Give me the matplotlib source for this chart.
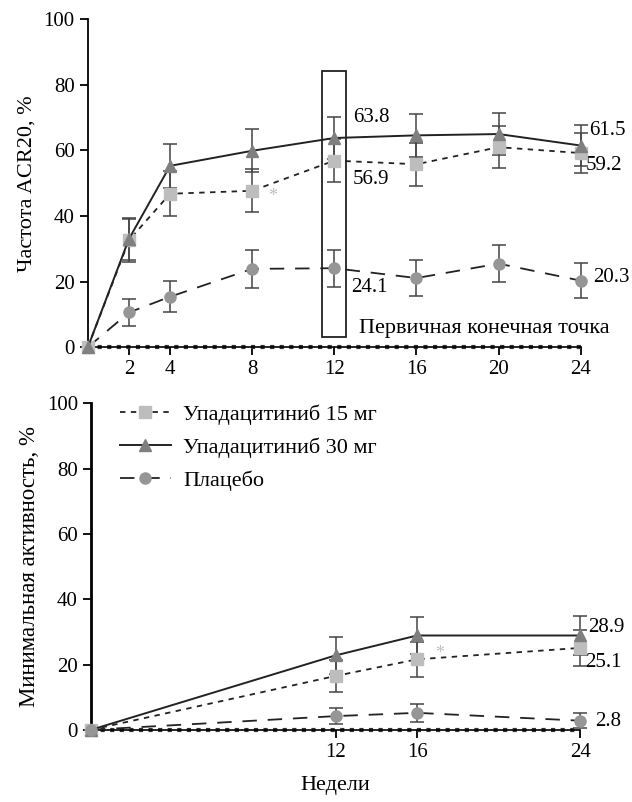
import matplotlib
matplotlib.use("Agg")
import matplotlib.pyplot as plt
from matplotlib.patches import Rectangle

plt.rcParams['font.family'] = ['Liberation Serif', 'DejaVu Serif']
plt.rcParams['font.size'] = 14

# верхний график: ACR20
weeks_top = [0, 2, 4, 8, 12, 16, 20, 24]
acr_15 = [0, 32.6, 46.8, 47.7, 56.9, 55.8, 61.0, 59.2]
acr_15_err = [0, 6.5, 6.8, 6.5, 6.5, 6.5, 6.5, 6.2]
acr_30 = [0, 33.0, 55.3, 59.9, 63.8, 64.6, 65.0, 61.5]
acr_30_err = [0, 6.5, 6.6, 6.6, 6.5, 6.5, 6.5, 6.3]
acr_pbo = [0, 10.6, 15.4, 23.9, 24.1, 21.1, 25.5, 20.3]
acr_pbo_err = [0, 4.1, 4.8, 5.7, 5.6, 5.4, 5.7, 5.4]

# нижний график: минимальная активность
weeks_bot = [0, 12, 16, 24]
mda_15 = [0, 16.5, 21.6, 25.1]
mda_15_err = [0, 4.8, 5.3, 5.5]
mda_30 = [0, 22.8, 28.9, 28.9]
mda_30_err = [0, 5.7, 5.8, 5.9]
mda_pbo = [0, 4.2, 5.2, 2.8]
mda_pbo_err = [0, 2.4, 2.7, 2.3]

labels = ["Упадацитиниб 15 мг", "Упадацитиниб 30 мг", "Плацебо"]

st_15 = dict(color='#222222', ls=(0, (3, 3)), lw=1.3, marker='s', ms=8,
             mfc='#bdbdbd', mec='#bdbdbd')
st_30 = dict(color='#222222', ls='-', lw=1.4, marker='^', ms=8,
             mfc='#7f7f7f', mec='#7f7f7f')
st_pbo = dict(color='#222222', ls=(0, (8, 6)), lw=1.3, marker='o', ms=8,
              mfc='#969696', mec='#969696')


def series(ax, x, y, err, st, label=None):
    ax.errorbar(x, y, yerr=err, fmt='none', ecolor='#444444', elinewidth=1.1,
                capsize=5, capthick=1.1, clip_on=False, zorder=3)
    ax.plot(x, y, label=label, clip_on=False, zorder=4, **st)


def style_axis(ax, ylw):
    ax.set_ylim(0, 100)
    ax.set_xlim(0, 24)
    ax.set_yticks([0, 20, 40, 60, 80, 100])
    for s in ['top', 'right']:
        ax.spines[s].set_visible(False)
    ax.spines['left'].set_linewidth(ylw)
    ax.spines['bottom'].set_linewidth(1.2)
    ax.tick_params(axis='both', length=6, width=1.3, direction='out', labelsize=15)
    ax.axhline(0, ls=(0, (1, 1.3)), lw=3.0, color='#333333', zorder=2, clip_on=False)


fig = plt.figure(figsize=(6.32, 8.02), dpi=100)

ax1 = fig.add_axes([0.139, 0.567, 0.780, 0.409])
series(ax1, weeks_top, acr_pbo, acr_pbo_err, st_pbo)
series(ax1, weeks_top, acr_15, acr_15_err, st_15)
series(ax1, weeks_top, acr_30, acr_30_err, st_30)
style_axis(ax1, 1.3)
ax1.set_xticks([2, 4, 8, 12, 16, 20, 24])
ax1.set_ylabel("Частота ACR20, %", fontsize=16, labelpad=5)
ax1.add_patch(Rectangle((11.4, 3.0), 1.16, 81.1, fill=False, lw=1.3,
                        edgecolor='#222222', zorder=5))
ax1.text(13.2, 5.8, "Первичная конечная точка", fontsize=16, va='center')
ax1.text(12.9, 70.0, "63.8", fontsize=15, va='center')
ax1.text(12.9, 51.0, "56.9", fontsize=15, va='center')
ax1.text(12.8, 18.3, "24.1", fontsize=15, va='center')
ax1.text(24.4, 66.0, "61.5", fontsize=15, va='center')
ax1.text(24.25, 55.3, "59.2", fontsize=15, va='center')
ax1.text(24.6, 21.4, "20.3", fontsize=15, va='center')
ax1.text(9.0, 46.0, "*", fontsize=13, color='#bdbdbd', ha='center', va='center')

ax2 = fig.add_axes([0.144, 0.090, 0.774, 0.407])
series(ax2, weeks_bot, mda_15, mda_15_err, st_15, labels[0])
series(ax2, weeks_bot, mda_30, mda_30_err, st_30, labels[1])
series(ax2, weeks_bot, mda_pbo, mda_pbo_err, st_pbo, labels[2])
style_axis(ax2, 2.0)
ax2.set_xticks([12, 16, 24])
ax2.set_ylabel("Минимальная активность, %", fontsize=16.5, labelpad=5)
ax2.set_xlabel("Недели", fontsize=16, labelpad=10)
ax2.text(24.4, 31.2, "28.9", fontsize=15, va='center')
ax2.text(24.25, 20.5, "25.1", fontsize=15, va='center')
ax2.text(24.75, 2.5, "2.8", fontsize=15, va='center')
ax2.text(17.1, 23.3, "*", fontsize=13, color='#bdbdbd', ha='center', va='center')
ax2.legend(loc='upper left', bbox_to_anchor=(0.018, 1.058), frameon=False,
           fontsize=16, handlelength=2.3, handletextpad=0.55, labelspacing=0.55)

fig.savefig("out.png", dpi=100)
